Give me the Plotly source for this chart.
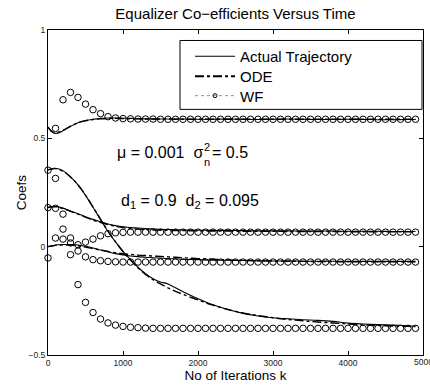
import plotly.graph_objects as go

# ---------------- data ----------------
LINE_K = [0, 50, 100, 200, 300, 400, 500, 600, 700, 800, 900, 1000, 1100, 1200, 1300, 1400,
          1500, 1600, 1700, 1800, 2000, 2200, 2400, 2600, 2800, 3000, 3200, 3400, 3600, 3800,
          4000, 4200, 4400, 4600, 4800, 4900]

ACT_A = [0.552, 0.530, 0.522, 0.535, 0.555, 0.572, 0.582, 0.588, 0.592, 0.594, 0.594, 0.593,
         0.592, 0.591, 0.590, 0.590, 0.589, 0.589, 0.589, 0.589, 0.588, 0.588, 0.589, 0.588,
         0.587, 0.588, 0.589, 0.588, 0.587, 0.587, 0.588, 0.587, 0.586, 0.586, 0.587, 0.587]
ODE_A = [0.552, 0.532, 0.525, 0.537, 0.556, 0.572, 0.581, 0.587, 0.590, 0.592, 0.592, 0.591,
         0.590, 0.590, 0.589, 0.589, 0.589, 0.589, 0.588, 0.588, 0.588, 0.588, 0.588, 0.588,
         0.588, 0.588, 0.588, 0.588, 0.588, 0.588, 0.588, 0.588, 0.588, 0.588, 0.588, 0.588]

ACT_B = [0.355, 0.360, 0.362, 0.350, 0.322, 0.285, 0.237, 0.182, 0.125, 0.070, 0.022, -0.022,
         -0.060, -0.095, -0.125, -0.148, -0.163, -0.172, -0.190, -0.208, -0.240, -0.268,
         -0.290, -0.308, -0.320, -0.328, -0.333, -0.337, -0.340, -0.345, -0.353, -0.357,
         -0.360, -0.362, -0.365, -0.367]
ODE_B = [0.355, 0.358, 0.360, 0.348, 0.322, 0.285, 0.238, 0.183, 0.127, 0.072, 0.022, -0.022,
         -0.062, -0.098, -0.128, -0.152, -0.172, -0.190, -0.206, -0.220, -0.246, -0.270,
         -0.290, -0.306, -0.318, -0.328, -0.336, -0.342, -0.348, -0.352, -0.357, -0.361,
         -0.364, -0.366, -0.368, -0.369]

ACT_C = [0.181, 0.185, 0.186, 0.178, 0.165, 0.152, 0.138, 0.126, 0.115, 0.105, 0.097, 0.092,
         0.088, 0.086, 0.084, 0.082, 0.080, 0.079, 0.078, 0.077, 0.076, 0.075, 0.075, 0.074,
         0.073, 0.073, 0.073, 0.072, 0.072, 0.072, 0.071, 0.071, 0.071, 0.070, 0.070, 0.070]
ODE_C = [0.181, 0.184, 0.184, 0.176, 0.163, 0.150, 0.136, 0.123, 0.112, 0.102, 0.094, 0.088,
         0.084, 0.081, 0.079, 0.077, 0.076, 0.075, 0.074, 0.074, 0.073, 0.072, 0.072, 0.071,
         0.071, 0.071, 0.070, 0.070, 0.070, 0.070, 0.069, 0.069, 0.069, 0.069, 0.069, 0.069]

ACT_D = [0.000, 0.004, 0.008, 0.010, 0.010, 0.008, 0.002, -0.006, -0.015, -0.024, -0.032,
         -0.038, -0.043, -0.046, -0.049, -0.051, -0.053, -0.055, -0.056, -0.058, -0.060,
         -0.062, -0.063, -0.064, -0.065, -0.066, -0.066, -0.067, -0.067, -0.067, -0.068,
         -0.068, -0.068, -0.068, -0.068, -0.068]
ODE_D = [0.000, 0.003, 0.006, 0.008, 0.007, 0.004, -0.002, -0.009, -0.016, -0.022, -0.028,
         -0.033, -0.036, -0.039, -0.041, -0.043, -0.045, -0.047, -0.049, -0.051, -0.055,
         -0.058, -0.061, -0.063, -0.065, -0.066, -0.067, -0.068, -0.069, -0.069, -0.070,
         -0.070, -0.070, -0.070, -0.070, -0.070]

WF_K = [0, 100, 200, 300, 400, 500, 600, 700, 800, 900, 1000, 1100, 1200, 1300, 1400, 1500,
        1600, 1700, 1800, 1900, 2000, 2100, 2200, 2300, 2400, 2500, 2600, 2700, 2800, 2900,
        3000, 3100, 3200, 3300, 3400, 3500, 3600, 3700, 3800, 3900, 4000, 4100, 4200, 4300,
        4400, 4500, 4600, 4700, 4800, 4900]

WF_A = [None, 0.546, 0.678, 0.712, 0.689, 0.658, 0.632, 0.614, 0.600, 0.594, 0.591, 0.590,
        0.589, 0.589, 0.589, 0.588, 0.588, 0.588, 0.588, 0.588, 0.588, 0.588, 0.588, 0.588,
        0.588, 0.588, 0.588, 0.588, 0.588, 0.588, 0.588, 0.588, 0.588, 0.588, 0.588, 0.588,
        0.588, 0.588, 0.588, 0.588, 0.588, 0.588, 0.588, 0.588, 0.588, 0.588, 0.588, 0.588,
        0.588, 0.588]
WF_B = [0.353, 0.315, 0.081, -0.037, -0.175, -0.257, -0.304, -0.334, -0.352, -0.362, -0.368,
        -0.372, -0.374, -0.376, -0.377, -0.377, -0.377, -0.377, -0.377, -0.377, -0.377,
        -0.377, -0.377, -0.377, -0.377, -0.377, -0.377, -0.377, -0.377, -0.377, -0.377,
        -0.377, -0.377, -0.377, -0.377, -0.377, -0.377, -0.377, -0.377, -0.377, -0.377,
        -0.377, -0.377, -0.377, -0.377, -0.377, -0.377, -0.377, -0.377, -0.377]
WF_C = [0.180, 0.177, 0.150, 0.040, 0.009, 0.021, 0.035, 0.050, 0.060, 0.064, 0.066, 0.067,
        0.067, 0.067, 0.067, 0.067, 0.067, 0.067, 0.067, 0.067, 0.067, 0.067, 0.067, 0.067,
        0.067, 0.067, 0.067, 0.067, 0.067, 0.067, 0.067, 0.067, 0.067, 0.067, 0.067, 0.067,
        0.067, 0.067, 0.067, 0.067, 0.067, 0.067, 0.067, 0.067, 0.067, 0.067, 0.067, 0.067,
        0.067, 0.067]
WF_D = [-0.052, 0.040, 0.035, 0.017, -0.020, -0.047, -0.060, -0.065, -0.068, -0.070, -0.071,
        -0.071, -0.071, -0.071, -0.071, -0.071, -0.071, -0.071, -0.071, -0.071, -0.071,
        -0.071, -0.071, -0.071, -0.071, -0.071, -0.071, -0.071, -0.071, -0.071, -0.071,
        -0.071, -0.071, -0.071, -0.071, -0.071, -0.071, -0.071, -0.071, -0.071, -0.071,
        -0.071, -0.071, -0.071, -0.071, -0.071, -0.071, -0.071, -0.071, -0.071]

X_TICKS = [0, 1000, 2000, 3000, 4000, 5000]
Y_TICKS = [-0.5, 0, 0.5, 1]
Y_TICK_TEXT = ["\u22120.5", "0", "0.5", "1"]

LEGEND_NAMES = ["Actual Trajectory", "ODE", "WF"]
TITLE = "Equalizer Co\u2212efficients Versus Time"
XLABEL = "No of Iterations k"
YLABEL = "Coefs"

# ---------------- figure ----------------
FONT = "Liberation Sans, Arial, Helvetica, sans-serif"
fig = go.Figure()

for act, ode in [(ACT_A, ODE_A), (ACT_B, ODE_B), (ACT_C, ODE_C), (ACT_D, ODE_D)]:
    fig.add_trace(go.Scatter(x=LINE_K, y=ode, mode="lines",
                             line=dict(color="black", width=1.4, dash="dashdot", shape="spline"),
                             showlegend=False, hoverinfo="skip"))
    fig.add_trace(go.Scatter(x=LINE_K, y=act, mode="lines",
                             line=dict(color="black", width=1.1, shape="spline"),
                             showlegend=False, hoverinfo="skip"))

for wf in [WF_A, WF_B, WF_C, WF_D]:
    fig.add_trace(go.Scatter(x=WF_K, y=wf, mode="markers",
                             marker=dict(symbol="circle-open", size=6.5, color="black",
                                         line=dict(width=1)),
                             showlegend=False, hoverinfo="skip", cliponaxis=False))

# legend entries (one legend per entry for exact spacing)
fig.add_trace(go.Scatter(x=[None], y=[None], mode="lines", name=LEGEND_NAMES[0],
                         line=dict(color="black", width=1.1), legend="legend"))
fig.add_trace(go.Scatter(x=[None], y=[None], mode="lines", name=LEGEND_NAMES[1],
                         line=dict(color="black", width=2, dash="dashdot"), legend="legend2"))
fig.add_trace(go.Scatter(x=[None], y=[None], mode="lines+markers", name=LEGEND_NAMES[2],
                         line=dict(color="#777777", width=0.8, dash="dot"),
                         marker=dict(symbol="circle-open", size=4, color="black",
                                     line=dict(width=1)), legend="legend3"))

ML, MR, MT, MB = 48, 7, 29.5, 33
W, H = 430, 388
PW, PH = W - ML - MR, H - MT - MB

def px2paper_x(px):
    return (px - ML) / PW

def py2paper_y(py):
    return (H - MB - py) / PH

fig.add_shape(type="rect", xref="paper", yref="paper",
              x0=px2paper_x(180), x1=px2paper_x(422), y0=py2paper_y(109), y1=py2paper_y(40),
              line=dict(color="black", width=1), fillcolor="white", layer="below")

ann = [
    dict(text="\u03bc = 0.001\u00a0\u00a0\u03c3", x=px2paper_x(204), y=py2paper_y(152), size=16, anchor="right"),
    dict(text="2", x=px2paper_x(203), y=py2paper_y(146.5), size=11, anchor="left"),
    dict(text="n", x=px2paper_x(203), y=py2paper_y(161.5), size=11, anchor="left"),
    dict(text="= 0.5", x=px2paper_x(211), y=py2paper_y(152), size=16, anchor="left"),
    dict(text="d<sub>1</sub> = 0.9\u00a0\u00a0d<sub>2</sub> = 0.095", x=px2paper_x(120),
         y=py2paper_y(201), size=16, anchor="left"),
]
for a in ann:
    fig.add_annotation(text=a["text"], x=a["x"], y=a["y"], xref="paper", yref="paper",
                       xanchor=a["anchor"], yanchor="middle", showarrow=False, borderpad=0,
                       font=dict(family=FONT, size=a["size"], color="black"))

# y-axis label
fig.add_annotation(text=YLABEL, x=px2paper_x(21), y=py2paper_y(192), xref="paper", yref="paper",
                   xanchor="center", yanchor="middle", textangle=-90, showarrow=False,
                   font=dict(family=FONT, size=13.5, color="black"))

# right-most x tick label (would otherwise be dropped at the window edge)
fig.add_annotation(text=str(X_TICKS[-1]), x=X_TICKS[-1], xref="x", y=py2paper_y(362), yref="paper",
                   xanchor="center", yanchor="middle", showarrow=False, borderpad=0,
                   font=dict(family=FONT, size=8.5, color="#222222"))

axis_common = dict(showline=True, linecolor="black", linewidth=1, mirror="ticks",
                   ticks="inside", ticklen=4, tickcolor="black", showgrid=False,
                   zeroline=False, tickfont=dict(family=FONT, size=8.5, color="#222222"))

leg_common = dict(xanchor="left", yanchor="middle", bgcolor="rgba(0,0,0,0)", borderwidth=0,
                  font=dict(family=FONT, size=15, color="black"), itemwidth=40)

fig.update_layout(
    width=W, height=H,
    margin=dict(l=ML, r=MR, t=MT, b=MB),
    paper_bgcolor="white", plot_bgcolor="white",
    title=dict(text=TITLE, x=(ML + PW / 2) / W, xanchor="center", y=1 - 14 / H, yanchor="middle",
               font=dict(family=FONT, size=15, color="black")),
    xaxis=dict(range=[0, 5000], tickvals=X_TICKS, ticktext=[str(t) for t in X_TICKS[:-1]] + [""],
               title=dict(text=XLABEL, standoff=3, font=dict(family=FONT, size=13.5, color="black")),
               **axis_common),
    yaxis=dict(range=[-0.5, 1], tickvals=Y_TICKS, ticktext=Y_TICK_TEXT, **axis_common),
    legend=dict(x=px2paper_x(190), y=py2paper_y(56), **leg_common),
    legend2=dict(x=px2paper_x(190), y=py2paper_y(76), **leg_common),
    legend3=dict(x=px2paper_x(190), y=py2paper_y(95.5), **leg_common),
    showlegend=True,
)

fig.write_html("out.html")
